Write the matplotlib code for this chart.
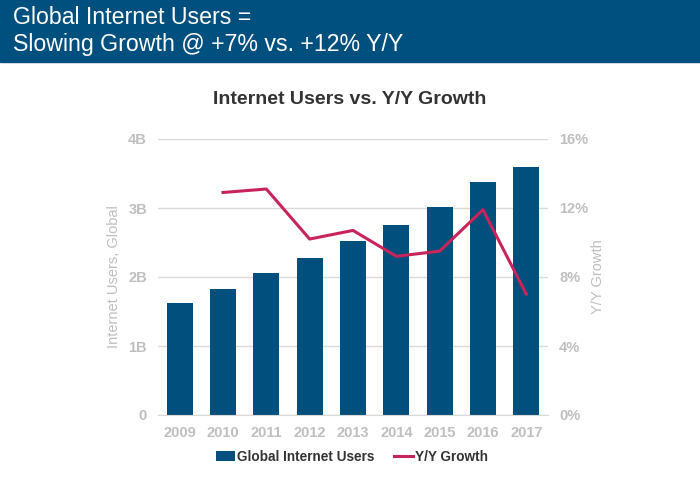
import matplotlib
matplotlib.use("Agg")
import matplotlib.pyplot as plt
from matplotlib.patches import Rectangle
from matplotlib.ticker import FuncFormatter

plt.rcParams['font.family'] = ['Liberation Sans', 'DejaVu Sans']

years = ['2009', '2010', '2011', '2012', '2013', '2014', '2015', '2016', '2017']
users_b = [1.62, 1.83, 2.06, 2.28, 2.52, 2.75, 3.01, 3.37, 3.59]
growth_years = ['2010', '2011', '2012', '2013', '2014', '2015', '2016', '2017']
growth_pct = [12.9, 13.1, 10.2, 10.7, 9.2, 9.5, 11.9, 7.0]
left_ticks = [0, 1, 2, 3, 4]
left_labels = ['0', '1B', '2B', '3B', '4B']
right_ticks = [0, 4, 8, 12, 16]

BAR = '#004F7C'
LINE = '#C8245A'
TICK = '#BFBFBF'
GRID = '#D9D9D9'

fig = plt.figure(figsize=(7, 4.88), dpi=100)
fig.patches.append(Rectangle((0, 1 - 62/488), 1, 62/488, transform=fig.transFigure,
                             color='#00507F', zorder=0))
fig.text(13/700, 1 - 18/488, 'Global Internet Users =', color='white', fontsize=16.7,
         va='center', ha='left')
fig.text(13/700, 1 - 45/488, 'Slowing Growth @ +7% vs. +12% Y/Y', color='white', fontsize=16.7,
         va='center', ha='left')

ax = fig.add_axes([158/700, 73/488, 390/700, 276/488])
x = list(range(len(years)))
ax.bar(x, users_b, width=0.6, color=BAR, zorder=2, label='Global Internet Users')
ax.set_ylim(0, 4)
ax.set_xlim(-0.5, len(years) - 0.5)
ax.set_yticks(left_ticks)
ax.set_yticklabels(left_labels)
ax.set_xticks(x)
ax.set_xticklabels(years)
ax.grid(axis='y', color=GRID, linewidth=1, zorder=0)
for s in ['top', 'right', 'left']:
    ax.spines[s].set_visible(False)
ax.spines['bottom'].set_color(GRID)
ax.tick_params(axis='both', length=0, colors=TICK, labelsize=10.5, pad=8)
for lab in ax.get_xticklabels() + ax.get_yticklabels():
    lab.set_fontweight('bold')
ax.set_ylabel('Internet Users, Global', color=TICK, fontsize=10.5, labelpad=5)

ax2 = ax.twinx()
gx = [years.index(y) for y in growth_years]
ax2.plot(gx, growth_pct, color=LINE, linewidth=2.2, zorder=3, label='Y/Y Growth')
ax2.set_ylim(0, 16)
ax2.set_yticks(right_ticks)
ax2.yaxis.set_major_formatter(FuncFormatter(lambda v, p: f'{int(v)}%'))
for s in ['top', 'right', 'left', 'bottom']:
    ax2.spines[s].set_visible(False)
ax2.tick_params(axis='y', length=0, colors=TICK, labelsize=10.5, pad=8)
for lab in ax2.get_yticklabels():
    lab.set_fontweight('bold')
ax2.set_ylabel('Y/Y Growth', color=TICK, fontsize=10.5, labelpad=2)

fig.text(350/700, 1 - 100/488, 'Internet Users vs. Y/Y Growth', fontsize=14,
         fontweight='bold', color='#333333', ha='center', va='center')

h1, l1 = ax.get_legend_handles_labels()
h2, l2 = ax2.get_legend_handles_labels()
leg = fig.legend(h1 + h2, l1 + l2, loc='center', bbox_to_anchor=(352/700, 1 - 457/488),
                 ncol=2, frameon=False, fontsize=9.8, handlelength=1.4,
                 handletextpad=0.2, columnspacing=1.4)
for t in leg.get_texts():
    t.set_color('#333333')
    t.set_fontweight('bold')

fig.savefig('out.png', dpi=100)
